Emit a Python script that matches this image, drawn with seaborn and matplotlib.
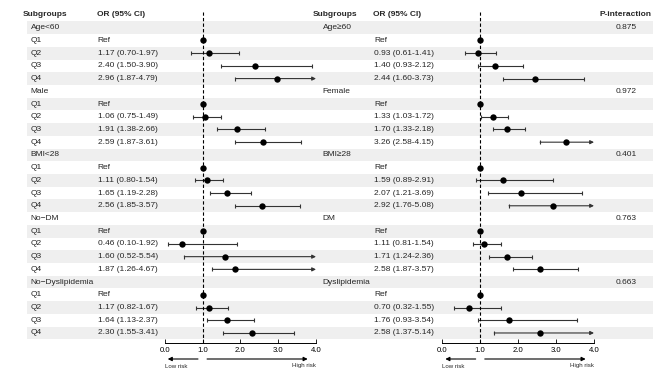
import numpy as np
import pandas as pd
import matplotlib.pyplot as plt
import matplotlib.transforms as mtransforms
import seaborn as sns

sns.set_theme(style="white")
plt.rcParams["font.family"] = ["Liberation Sans", "DejaVu Sans"]

# ---- data ----
quartiles = ["Q1", "Q2", "Q3", "Q4"]

left_groups = ["Age<60", "Male", "BMI<28", "No\u2212DM", "No\u2212Dyslipidemia"]
right_groups = ["Age\u226560", "Female", "BMI\u226528", "DM", "Dyslipidemia"]
p_interaction = ["0.875", "0.972", "0.401", "0.763", "0.663"]

# OR for Q2..Q4 (Q1 is the reference)
left_or = [[1.17, 2.40, 2.96], [1.06, 1.91, 2.59], [1.11, 1.65, 2.56],
           [0.46, 1.60, 1.87], [1.17, 1.64, 2.30]]
left_lo = [[0.70, 1.50, 1.87], [0.75, 1.38, 1.87], [0.80, 1.19, 1.85],
           [0.10, 0.52, 1.26], [0.82, 1.13, 1.55]]
left_hi = [[1.97, 3.90, 4.79], [1.49, 2.66, 3.61], [1.54, 2.28, 3.57],
           [1.92, 5.54, 4.67], [1.67, 2.37, 3.41]]

right_or = [[0.93, 1.40, 2.44], [1.33, 1.70, 3.26], [1.59, 2.07, 2.92],
            [1.11, 1.71, 2.58], [0.70, 1.76, 2.58]]
right_lo = [[0.61, 0.93, 1.60], [1.03, 1.33, 2.58], [0.89, 1.21, 1.76],
            [0.81, 1.24, 1.87], [0.32, 0.93, 1.37]]
right_hi = [[1.41, 2.12, 3.73], [1.72, 2.18, 4.15], [2.91, 3.69, 5.08],
            [1.54, 2.36, 3.57], [1.55, 3.54, 5.14]]


def build(groups, ors, los, his):
    rows = []
    for g, name in enumerate(groups):
        rows.append(dict(row=5 * g, label=name, kind="group",
                         OR=np.nan, lo=np.nan, hi=np.nan, text=""))
        rows.append(dict(row=5 * g + 1, label="Q1", kind="q",
                         OR=1.0, lo=np.nan, hi=np.nan, text="Ref"))
        for k in range(3):
            o, l, h = ors[g][k], los[g][k], his[g][k]
            rows.append(dict(row=5 * g + 2 + k, label=quartiles[k + 1], kind="q",
                             OR=o, lo=l, hi=h,
                             text=f"{o:.2f} ({l:.2f}-{h:.2f})"))
    return pd.DataFrame(rows)


left_df = build(left_groups, left_or, left_lo, left_hi)
right_df = build(right_groups, right_or, right_lo, right_hi)

# ---- layout (pixels of a 671x391 figure) ----
W, H = 671, 391
row0, step = 27.7, 12.72
y_top, y_bot = -1.6, 24.8
px_top = row0 + y_top * step
px_bot = row0 + y_bot * step
ax_b = (H - px_bot) / H
ax_h = (px_bot - px_top) / H
fs = 6.0
line_col = "#333333"

fig = plt.figure(figsize=(W / 100, H / 100), dpi=100)

bg = fig.add_axes([27 / W, ax_b, 626 / W, ax_h], zorder=0)
bg.set_xlim(0, 1)
bg.set_ylim(y_bot, y_top)
for r in range(0, 25, 2):
    bg.axhspan(r - 0.5, r + 0.5, color="#efefef", lw=0)
bg.axis("off")

axL = fig.add_axes([164.7 / W, ax_b, 151.3 / W, ax_h], zorder=1)
axR = fig.add_axes([442.3 / W, ax_b, 151.7 / W, ax_h], zorder=1)


def forest(ax, df):
    ax.set_facecolor("none")
    d = df[df["kind"] == "q"]
    for _, r in d.dropna(subset=["lo"]).iterrows():
        if r["hi"] > 4:
            ax.annotate("", xy=(4, r["row"]), xytext=(r["lo"], r["row"]),
                        arrowprops=dict(arrowstyle="-|>", color=line_col, lw=0.8,
                                        mutation_scale=5.5, shrinkA=0, shrinkB=0))
        else:
            ax.hlines(r["row"], r["lo"], r["hi"], color=line_col, lw=0.8)
            ax.vlines(r["hi"], r["row"] - 0.16, r["row"] + 0.16, color=line_col, lw=0.8)
        ax.vlines(r["lo"], r["row"] - 0.16, r["row"] + 0.16, color=line_col, lw=0.8)
    sns.scatterplot(data=d, x="OR", y="row", ax=ax, color="black", s=21,
                    linewidth=0, zorder=3, legend=False)
    ax.axvline(1, ymax=0.985, color="black", ls=(0, (3, 2)), lw=0.8, zorder=2)
    ax.set_xlim(0, 4)
    ax.set_ylim(y_bot, y_top)
    ax.set_xlabel("")
    ax.set_ylabel("")
    ax.set_yticks([])
    ax.set_xticks([0, 1, 2, 3, 4])
    ax.set_xticklabels(["0.0", "1.0", "2.0", "3.0", "4.0"])
    ax.tick_params(axis="x", direction="in", length=3, width=0.6,
                   labelsize=5.6, pad=3, bottom=True, colors="black")
    for s in ["top", "left", "right"]:
        ax.spines[s].set_visible(False)
    ax.spines["bottom"].set_color("black")
    ax.spines["bottom"].set_linewidth(0.7)
    tr = ax.get_xaxis_transform()
    arrow_y = -(359 - px_bot) / (px_bot - px_top)
    text_y = -(366 - px_bot) / (px_bot - px_top)
    kw = dict(arrowstyle="-|>", color="black", lw=0.8, mutation_scale=6,
              shrinkA=0, shrinkB=0)
    ax.annotate("", xy=(0.08, arrow_y), xytext=(0.88, arrow_y),
                xycoords=tr, textcoords=tr, arrowprops=kw, annotation_clip=False)
    ax.annotate("", xy=(3.78, arrow_y), xytext=(1.12, arrow_y),
                xycoords=tr, textcoords=tr, arrowprops=kw, annotation_clip=False)
    ax.text(0.0, text_y, "Low risk", transform=tr, fontsize=4.4,
            ha="left", va="center")
    ax.text(4.0, text_y, "High risk", transform=tr, fontsize=4.4,
            ha="right", va="center")


forest(axL, left_df)
forest(axR, right_df)

# ---- table text ----
trL = mtransforms.blended_transform_factory(fig.transFigure, axL.transData)

headers = [(22.7, "Subgroups"), (96.7, "OR (95% CI)"), (313, "Subgroups"),
           (373, "OR (95% CI)"), (599, "P-interaction")]
for x, t in headers:
    axL.text(x / W, -1, t, transform=trL, fontsize=fs,
             fontweight="bold", va="center", ha="left")

for _, r in left_df.iterrows():
    axL.text(30.5 / W, r["row"], r["label"], transform=trL, fontsize=fs,
             va="center", ha="left")
    if r["text"]:
        axL.text(97.5 / W, r["row"], r["text"], transform=trL, fontsize=fs,
                 va="center", ha="left")

for _, r in right_df.iterrows():
    if r["kind"] == "group":
        axL.text(322.5 / W, r["row"], r["label"], transform=trL, fontsize=fs,
                 va="center", ha="left")
    if r["text"]:
        axL.text(374 / W, r["row"], r["text"], transform=trL, fontsize=fs,
                 va="center", ha="left")

for g, p in enumerate(p_interaction):
    axL.text(626 / W, 5 * g, p, transform=trL, fontsize=fs,
             va="center", ha="center")

fig.savefig("out.png", dpi=100)
